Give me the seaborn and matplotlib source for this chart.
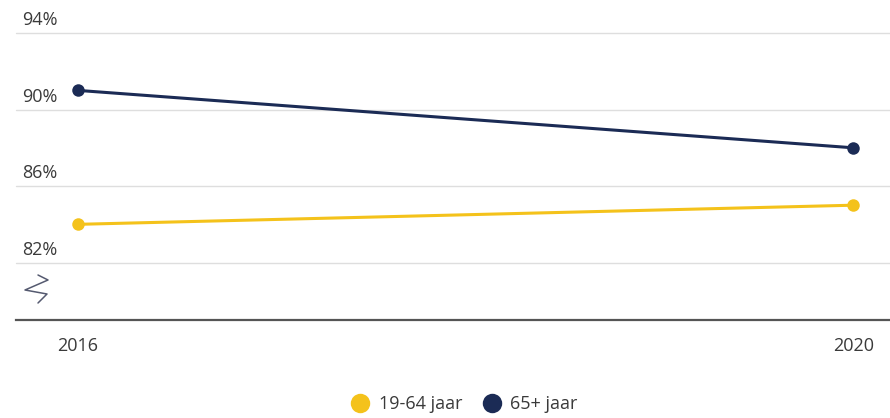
import pandas as pd
import matplotlib.pyplot as plt
import seaborn as sns
from matplotlib.lines import Line2D
from matplotlib.transforms import blended_transform_factory

# data
years = [2016, 2020]
age_groups = ['19-64 jaar', '65+ jaar']
share_19_64 = [84, 85]
share_65_plus = [91, 88]
y_ticks = [82, 86, 90, 94]
y_tick_labels = ['82%', '86%', '90%', '94%']

colors = {'19-64 jaar': '#f4c21b', '65+ jaar': '#1b2b55'}
text_color = '#3a3a3a'

df = pd.DataFrame({
    'jaar': years * 2,
    'groep': [age_groups[0]] * len(years) + [age_groups[1]] * len(years),
    'aandeel': share_19_64 + share_65_plus,
})

sns.set_style('white')
plt.rcParams['font.family'] = ['Open Sans', 'DejaVu Sans']

fig = plt.figure(figsize=(8.9, 4.18), dpi=100)
ax = fig.add_axes([16 / 890, 1 - 320 / 418, 874 / 890, 287 / 418])

sns.lineplot(data=df, x='jaar', y='aandeel', hue='groep', palette=colors,
             marker='o', markersize=9, markeredgewidth=0, linewidth=2.2,
             legend=False, ax=ax, zorder=3)

ax.set_xlim(2015.68, 2020.19)
ax.set_ylim(79, 94)
ax.set_xticks(years)
ax.set_xticklabels([str(y) for y in years], fontsize=13, color=text_color)
ax.tick_params(axis='x', length=0, pad=12)
ax.set_yticks(y_ticks)
ax.set_yticklabels([])
ax.tick_params(axis='y', length=0)
ax.grid(axis='y', color='#dedede', linewidth=1)
ax.set_xlabel('')
ax.set_ylabel('')

for s in ['top', 'right', 'left']:
    ax.spines[s].set_visible(False)
ax.spines['bottom'].set_color('#555555')
ax.spines['bottom'].set_linewidth(1.6)
for line in ax.get_ygridlines():
    line.set_clip_on(False)

# y labels sit above the gridlines, left aligned
trans = blended_transform_factory(ax.transAxes, ax.transData)
for v, lab in zip(y_ticks, y_tick_labels):
    ax.text(6 / 874, v + 0.2, lab, transform=trans, ha='left', va='bottom',
            fontsize=13, color=text_color)

# axis break symbol
zz_px = [(38, 275), (48, 280), (25, 290), (47, 294), (38, 303)]
zx = [(px - 16) / 874 for px, py in zz_px]
zy = [(320 - py) / 287 for px, py in zz_px]
ax.plot(zx, zy, transform=ax.transAxes, color='#555a70', linewidth=1.1,
        clip_on=False)

handles = [Line2D([0], [0], marker='o', linestyle='', markersize=14,
                  markerfacecolor=colors[g], markeredgewidth=0, label=g)
           for g in age_groups]
fig.legend(handles=handles, loc='center', bbox_to_anchor=(460 / 890, 1 - 404 / 418),
           ncol=2, frameon=False, fontsize=13, handletextpad=0.05,
           columnspacing=0.6, labelcolor=text_color)

fig.savefig('out.png', dpi=100, facecolor='white')
